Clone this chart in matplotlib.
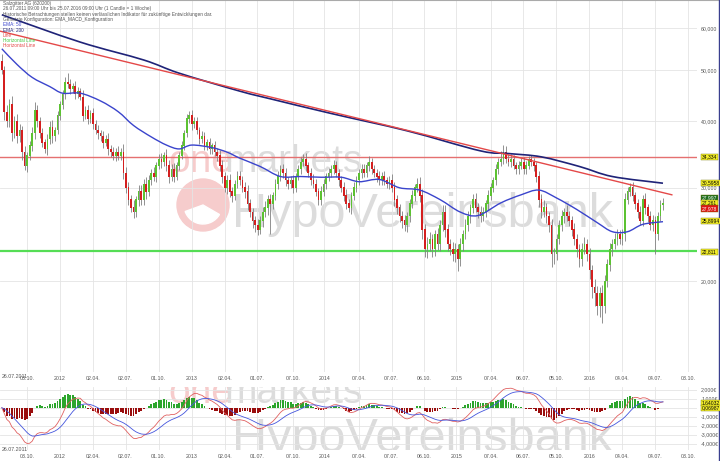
import numpy as np
import pandas as pd
import matplotlib
matplotlib.use("Agg")
import matplotlib.pyplot as plt
import matplotlib.dates as mdates
from matplotlib.patches import Circle, Wedge, PathPatch
from matplotlib.path import Path
from matplotlib.ticker import FixedLocator, NullLocator

plt.rcParams['font.family'] = ['Liberation Sans', 'DejaVu Sans']

# weekly candles 26.07.2011 - 25.07.2016
first_open = 52.0
close = [50.0, 41.7, 40.0, 43.0, 38.0, 40.0, 37.5, 38.5, 35.0, 33.0,
         34.5, 36.0, 38.0, 42.0, 40.0, 38.0, 36.5, 35.5, 37.0, 39.0,
         37.5, 38.5, 41.0, 43.0, 45.0, 47.5, 47.0, 46.0, 46.5, 45.0,
         45.5, 44.5, 41.0, 42.0, 40.5, 41.5, 39.5, 38.5, 38.0, 37.5,
         36.5, 37.0, 35.5, 35.0, 34.5, 35.0, 34.5, 35.0, 32.0, 30.0,
         28.5, 27.5, 27.0, 28.5, 29.5, 28.5, 30.5, 29.5, 31.0, 32.0,
         31.5, 33.0, 34.0, 33.5, 34.5, 33.0, 31.5, 32.5, 31.5, 33.0,
         34.5, 36.0, 38.0, 40.5, 41.0, 39.5, 40.0, 38.5, 37.0, 37.5,
         36.0, 36.5, 35.5, 36.0, 35.0, 34.5, 33.0, 31.5, 30.0, 31.0,
         29.5, 29.0, 30.5, 31.5, 31.0, 30.0, 29.5, 28.0, 27.0, 26.0,
         25.5, 25.0, 26.0, 27.0, 27.5, 28.5, 28.0, 29.0, 30.5, 31.5,
         32.5, 32.0, 31.0, 30.5, 31.0, 30.0, 31.5, 32.5, 33.5, 34.0,
         33.0, 32.0, 31.0, 30.5, 29.5, 28.5, 29.5, 30.5, 31.5, 32.0,
         32.5, 33.0, 32.0, 31.0, 30.0, 29.0, 28.0, 27.5, 29.0, 30.0,
         31.0, 32.0, 32.5, 32.0, 33.0, 33.5, 32.5, 32.0, 31.5, 31.0,
         31.5, 31.0, 30.5, 31.0, 30.0, 28.5, 27.5, 26.5, 26.0, 25.5,
         26.5, 28.0, 29.0, 30.0, 30.5, 29.0, 25.0, 23.0, 23.5, 24.0,
         23.0, 24.5, 23.5, 25.5, 27.0, 25.0, 23.5, 23.0, 22.5, 23.0,
         22.0, 23.5, 24.5, 25.5, 26.5, 27.5, 28.5, 27.5, 27.0, 26.5,
         27.0, 28.0, 29.0, 30.0, 31.0, 32.5, 33.5, 34.0, 35.0, 34.0,
         33.5, 34.0, 33.0, 32.5, 33.0, 33.5, 32.5, 33.0, 34.0, 33.5,
         33.0, 31.5, 28.5, 27.0, 27.5, 26.5, 25.5, 22.5, 22.5, 24.0,
         25.5, 26.5, 27.0, 26.5, 26.0, 25.0, 24.0, 23.0, 22.0, 23.0,
         23.5, 22.5, 21.0, 19.5, 19.0, 18.0, 19.0, 18.0, 20.0, 21.5,
         23.0, 23.5, 24.0, 24.5, 24.0, 24.5, 28.5, 29.5, 30.0, 29.0,
         28.0, 27.0, 26.0, 28.5, 27.5, 26.5, 25.5, 26.0, 24.5, 26.5,
         27.8, 28.0]

up_wick = [1.5, 0.8, 1.2, 1.0, 1.6, 0.9, 1.3, 1.1, 0.7, 0.9,
           0.6, 0.8, 1.0, 1.5, 0.9, 0.7, 0.8, 0.6, 0.9, 1.0,
           1.2, 0.6, 0.8, 0.7, 0.9, 1.0, 1.8, 1.0, 0.8, 1.1,
           0.9, 0.7, 1.3, 0.8, 1.0, 0.6, 0.9, 0.7, 0.8, 0.6,
           0.9, 0.7, 1.0, 0.6, 0.8, 0.7, 0.9, 0.6, 1.2, 0.8,
           0.7, 0.6, 0.9, 0.5, 0.8, 0.9, 0.6, 1.0, 0.7, 0.6,
           0.8, 0.5, 0.7, 0.9, 0.6, 1.0, 0.8, 0.7, 0.9, 0.6,
           0.5, 0.7, 0.6, 0.8, 0.9, 1.0, 0.7, 0.8, 0.6, 0.9,
           0.7, 0.6, 0.8, 0.5, 0.7, 0.6, 0.9, 0.8, 0.6, 0.7,
           0.9, 0.6, 0.5, 0.7, 0.8, 0.6, 0.7, 0.9, 0.6, 0.5,
           0.6, 0.7, 0.5, 0.6, 0.8, 0.6, 0.7, 0.5, 0.6, 0.7,
           0.6, 0.8, 0.7, 0.5, 0.6, 0.7, 0.5, 0.6, 0.8, 0.7,
           0.9, 0.6, 0.7, 0.8, 0.6, 0.5, 0.7, 0.6, 0.5, 0.7,
           0.6, 0.8, 0.7, 0.5, 0.6, 0.7, 0.8, 0.6, 0.5, 0.7,
           0.6, 0.5, 0.7, 0.8, 0.6, 0.9, 0.7, 0.6, 0.5, 0.7,
           0.6, 0.7, 0.5, 0.6, 0.8, 0.7, 0.6, 0.5, 0.6, 0.7,
           0.5, 0.6, 0.7, 0.5, 0.8, 1.0, 0.9, 0.6, 0.7, 0.8,
           0.6, 0.5, 0.7, 0.6, 0.9, 0.8, 0.6, 0.5, 0.7, 0.6,
           0.5, 0.6, 0.5, 0.7, 0.6, 0.5, 0.7, 0.8, 0.6, 0.7,
           0.6, 0.5, 0.7, 0.6, 0.5, 0.8, 0.7, 1.2, 1.1, 0.9,
           0.7, 0.8, 0.6, 0.5, 0.7, 0.6, 0.8, 0.7, 0.5, 0.6,
           0.7, 0.6, 0.8, 0.7, 0.9, 0.6, 0.5, 0.7, 0.6, 0.5,
           0.6, 0.7, 0.5, 0.8, 0.6, 0.5, 0.7, 0.6, 0.5, 0.6,
           0.7, 0.5, 0.6, 0.5, 0.7, 0.6, 0.5, 0.7, 0.6, 0.5,
           0.6, 0.5, 0.7, 0.6, 0.5, 0.6, 0.8, 0.6, 0.6, 0.7,
           0.5, 0.6, 0.7, 0.6, 0.8, 0.5, 0.6, 0.7, 0.6, 0.5,
           0.6, 0.7]

dn_wick = [0.8, 1.5, 1.0, 0.9, 1.2, 0.8, 1.0, 0.9, 1.1, 0.6,
           0.9, 0.7, 0.8, 1.0, 0.9, 0.8, 0.7, 0.6, 0.9, 0.8,
           1.0, 0.7, 0.6, 0.8, 0.7, 0.9, 0.8, 1.0, 0.7, 0.9,
           0.8, 0.7, 0.9, 0.6, 1.0, 0.7, 0.8, 0.6, 0.9, 0.7,
           0.8, 0.6, 0.9, 0.7, 0.6, 0.8, 0.7, 0.6, 0.9, 0.7,
           0.6, 0.5, 0.7, 0.6, 0.8, 0.7, 0.6, 0.9, 0.5, 0.7,
           0.6, 0.7, 0.5, 0.8, 0.6, 0.7, 0.9, 0.6, 0.8, 0.5,
           0.6, 0.5, 0.7, 0.6, 0.8, 0.9, 0.6, 0.7, 0.8, 0.6,
           0.7, 0.6, 0.8, 0.7, 0.6, 0.8, 0.7, 0.9, 0.6, 0.8,
           0.7, 0.8, 0.6, 0.5, 0.7, 0.6, 0.8, 0.7, 0.6, 0.8,
           0.7, 0.6, 0.5, 0.7, 0.6, 0.8, 3.5, 0.6, 0.5, 0.7,
           0.6, 0.7, 0.8, 0.6, 0.5, 0.7, 0.6, 0.5, 0.7, 0.6,
           0.8, 0.6, 0.7, 0.5, 0.6, 0.7, 0.6, 0.5, 0.7, 0.6,
           0.5, 0.7, 0.6, 0.8, 0.6, 0.7, 0.6, 0.5, 0.7, 0.6,
           0.5, 0.6, 0.7, 0.5, 0.6, 0.7, 0.6, 0.5, 0.7, 0.6,
           0.7, 0.6, 0.5, 0.7, 0.6, 0.8, 0.7, 0.6, 0.8, 0.6,
           0.7, 0.6, 0.5, 0.7, 0.6, 0.8, 1.0, 0.8, 0.9, 0.7,
           0.8, 0.7, 0.6, 0.7, 0.6, 0.8, 0.7, 0.6, 0.7, 0.8,
           1.1, 0.6, 0.7, 0.5, 0.6, 0.7, 0.6, 0.5, 0.7, 0.6,
           0.5, 0.6, 0.7, 0.5, 0.6, 0.7, 0.6, 0.5, 0.7, 0.6,
           0.6, 0.7, 0.5, 0.6, 0.7, 0.5, 0.6, 0.7, 0.5, 0.6,
           0.7, 0.8, 0.9, 0.7, 0.6, 0.8, 0.7, 1.2, 0.9, 0.6,
           0.5, 0.6, 0.7, 0.5, 0.6, 0.7, 0.6, 0.8, 0.7, 0.6,
           0.5, 0.7, 0.8, 0.9, 1.0, 0.7, 0.9, 1.3, 0.6, 0.5,
           0.6, 0.7, 0.5, 0.6, 0.5, 0.6, 0.7, 0.5, 0.6, 0.7,
           0.6, 0.7, 0.5, 0.6, 0.7, 0.6, 0.5, 0.6, 2.0, 0.6,
           0.5, 0.6]

# moving averages read at sample weeks
ema50_week = [0, 6, 12, 19, 24, 31, 39, 46, 52, 59, 65, 70, 75, 83, 89, 94, 102, 110,
              118, 126, 134, 141, 149, 157, 165, 173, 181, 188, 197, 205, 212, 219,
              227, 235, 241, 247, 253, 261]
ema50_val = [54.8, 51.2, 48.4, 46.5, 45.2, 45.2, 43.7, 41.7, 39.3, 37.4, 36.1, 35.5,
             36.1, 35.7, 35.0, 34.1, 32.9, 31.5, 31.5, 31.4, 31.4, 30.8, 31.1, 30.0,
             29.7, 28.5, 27.0, 26.6, 28.1, 29.1, 29.7, 28.7, 27.3, 25.8, 24.8, 24.8,
             25.6, 25.9]
ema200_week = [0, 31, 56, 70, 94, 107, 130, 160, 189, 200, 213, 228, 241, 261]
ema200_val = [63.5, 56.4, 52.2, 49.3, 45.6, 44.0, 41.4, 38.4, 35.2, 34.8, 34.3, 32.9,
              31.5, 30.6]

trend_week = [-1, 264.5]
trend_val = [59.2, 29.1]
hline_red = 34.334
hline_green = 22.811

price_ticks = [20, 30, 40, 50, 60]
price_labels = ['20,000', '30,000', '40,000', '50,000', '60,000']
macd_ticks = [-4, -3, -2, -1, 0, 1, 2]
macd_labels = ['-4,000€', '-3,000€', '-2,000€', '-1,000€', '', '1,000€', '2,000€']

tick_dates = ['2011-10-03', '2012-01-02', '2012-04-02', '2012-07-02', '2012-10-01',
              '2013-01-01', '2013-04-02', '2013-07-01', '2013-10-07', '2014-01-02',
              '2014-04-07', '2014-07-07', '2014-10-06', '2015-01-02', '2015-04-07',
              '2015-07-06', '2015-10-05', '2016-01-04', '2016-04-04', '2016-07-04',
              '2016-10-03']
tick_labels = ['03.10.', '2012', '02.04.', '02.07.', '01.10.', '2013', '02.04.', '01.07.',
               '07.10.', '2014', '07.04.', '07.07.', '06.10.', '2015', '07.04.', '06.07.',
               '05.10.', '2016', '04.04.', '04.07.', '03.10.']

W, H = 720, 461
def fx(px):
    return px / W
def fy(py):
    return 1 - py / H

close = np.array(close)
opens = np.concatenate([[first_open], close[:-1]])
high = np.maximum(opens, close) + np.array(up_wick)
low = np.minimum(opens, close) - np.array(dn_wick)

start = pd.Timestamp('2011-07-26')
dates = start + pd.to_timedelta(7 * np.arange(len(close)), unit='D')
x = mdates.date2num(dates.to_pydatetime())
def wk(w):
    return mdates.date2num(start.to_pydatetime()) + 7 * np.asarray(w, dtype=float)

def smooth_log_path(xs, ys):
    # Catmull-Rom through the read points, drawn as bezier curves (log-y space)
    xs = np.asarray(xs, float)
    ly = np.log(np.asarray(ys, float))
    verts = [(xs[0], ys[0])]
    codes = [Path.MOVETO]
    n = len(xs)
    for i in range(n - 1):
        x0, y0 = (xs[i - 1], ly[i - 1]) if i > 0 else (xs[i], ly[i])
        x1, y1 = xs[i], ly[i]
        x2, y2 = xs[i + 1], ly[i + 1]
        x3, y3 = (xs[i + 2], ly[i + 2]) if i + 2 < n else (x2, y2)
        c1 = (x1 + (x2 - x0) / 6, y1 + (y2 - y0) / 6)
        c2 = (x2 - (x3 - x1) / 6, y2 - (y3 - y1) / 6)
        verts += [(c1[0], np.exp(c1[1])), (c2[0], np.exp(c2[1])), (x2, np.exp(y2))]
        codes += [Path.CURVE4] * 3
    return Path(verts, codes)

# MACD from the weekly closes
s = pd.Series(close)
macd = s.ewm(span=12, adjust=False).mean() - s.ewm(span=26, adjust=False).mean()
signal = macd.ewm(span=9, adjust=False).mean()
hist = macd - signal

fig = plt.figure(figsize=(7.2, 4.61), dpi=100)
fig.patch.set_facecolor('white')

ax = fig.add_axes([0, fy(372), fx(697), fy(0) - fy(372)])
ax2 = fig.add_axes([0, fy(450), fx(697), fy(387) - fy(450)])

xl = (mdates.date2num(pd.Timestamp('2011-07-21').to_pydatetime()),
      mdates.date2num(pd.Timestamp('2016-10-28').to_pydatetime()))
tick_x = mdates.date2num(pd.to_datetime(tick_dates).to_pydatetime())

for a in (ax, ax2):
    a.set_facecolor('none')
    for sp in a.spines.values():
        sp.set_visible(False)
    a.set_xlim(*xl)
    a.xaxis.set_major_locator(FixedLocator(tick_x))
    a.set_xticklabels(tick_labels)
    a.yaxis.tick_right()
    a.tick_params(axis='both', length=0, labelsize=3.8, labelcolor='#555555', pad=3)
    a.grid(True, color='#e4e4e4', lw=0.6)
    a.set_axisbelow(True)

# watermarks
wm_pink = '#f6cccc'
wm_gray = '#dcdcdc'
fig.text(fx(168), fy(172), 'one', fontsize=28, color=wm_pink, zorder=-5)
fig.text(fx(224), fy(172), 'markets', fontsize=28, color=wm_gray, zorder=-5)
fig.text(fx(232), fy(227), 'HypoVereinsbank', fontsize=35, color=wm_gray, zorder=-5)
fig.add_artist(Circle((203, fy(205) * H), 26, transform=None, color=wm_pink, zorder=-5))
fig.add_artist(Wedge((203, fy(205) * H), 19, 200, 330, transform=None, color='white', zorder=-4))

for t, px, py, fs, col in [('one', 168, 403, 28, wm_pink),
                           ('markets', 224, 403, 28, wm_gray),
                           ('HypoVereinsbank', 232, 452, 35, wm_gray)]:
    tt = ax2.text(fx(px), fy(py), t, fontsize=fs, color=col,
                  transform=fig.transFigure, zorder=0)
    tt.set_clip_box(ax2.bbox)
    tt.set_clip_on(True)

# main chart
ax.set_yscale('log')
ax.set_ylim(13.5, 67.7)
ax.yaxis.set_major_locator(FixedLocator(price_ticks))
ax.yaxis.set_minor_locator(NullLocator())
ax.set_yticklabels(price_labels)

up = close >= opens
ax.vlines(x, low, high, color='#808080', lw=0.6, zorder=2)
body_lo = np.minimum(opens, close)
body_h = np.abs(close - opens) + 0.05
ax.bar(x[up], body_h[up], bottom=body_lo[up], width=4.8, color='#5cc232', lw=0, zorder=3)
ax.bar(x[~up], body_h[~up], bottom=body_lo[~up], width=4.8, color='#d41f1f', lw=0, zorder=3)

ax.add_patch(PathPatch(smooth_log_path(wk(ema50_week), ema50_val), fill=False,
                       ec='#3a44cc', lw=1.0, zorder=4))
ax.add_patch(PathPatch(smooth_log_path(wk(ema200_week), ema200_val), fill=False,
                       ec='#1f2378', lw=1.2, zorder=4))
ax.plot(wk(trend_week), trend_val, color='#e44848', lw=1.0, zorder=4)
ax.axhline(hline_red, color='#e57070', lw=1.0, zorder=1)
ax.axhline(hline_green, color='#55dd55', lw=1.6, zorder=1)

# MACD panel
ax2.set_ylim(-4.7, 2.3)
ax2.yaxis.set_major_locator(FixedLocator(macd_ticks))
ax2.set_yticklabels(macd_labels)
hcol = np.where(hist >= 0, '#2ca52c', '#9a0d0d')
ax2.bar(x, hist, width=5.0, color=hcol, lw=0, zorder=2)
ax2.plot(x, macd, color='#e06060', lw=0.6, zorder=3)
ax2.plot(x, signal, color='#4455dd', lw=0.6, zorder=3)

# start date labels
fig.text(fx(2), fy(376), '26.07.2011', fontsize=3.8, color='#555555', va='center')
fig.text(fx(2), fy(449), '26.07.2011', fontsize=3.8, color='#555555', va='center')

# header / legend text
hdr = [('Salzgitter AG (620200)', '#555555'),
       ('26.07.2011 09:00 Uhr bis 25.07.2016 09:00 Uhr (1 Candle = 1 Woche)', '#555555'),
       ('Historische Betrachtungen stellen keinen verlässlichen Indikator für zukünftige Entwicklungen dar.', '#555555'),
       ('Genutzte Konfiguration: EMA_MACD_Konfiguration', '#555555'),
       ('EMA: 50', '#3a44cc'),
       ('EMA: 200', '#1f2378'),
       ('Line', '#e44848'),
       ('Horizontal Line', '#44cc44'),
       ('Horizontal Line', '#e44848')]
for k, (t, col) in enumerate(hdr):
    fig.text(fx(3), fy(3.5 + 5.3 * k), t, fontsize=3.4, color=col, va='center')

# value boxes on the right
boxes = [(157, '34,334', '#f3ee2a', 'black'),
         (183, '30,5958', '#f3ee2a', 'black'),
         (198, '27,997', '#1d6e1d', 'white'),
         (203, '27,261', '#f3ee2a', 'black'),
         (208.5, '27,978', '#dd1515', 'white'),
         (221, '25,8994', '#f3ee2a', 'black'),
         (252, '22,811', '#f3ee2a', 'black'),
         (403, '1,64032', '#f3ee2a', 'black'),
         (408, '0,06987', '#f3ee2a', 'black')]
for py, t, bg, fg in boxes:
    fig.text(fx(702), fy(py), t, fontsize=3.6, color=fg, va='center',
             bbox=dict(boxstyle='square,pad=0.15', fc=bg, ec='#777700', lw=0.3))

# frame lines
fig.add_artist(plt.Line2D([0, 1], [fy(0.5), fy(0.5)], transform=fig.transFigure,
                          color='#aaaaaa', lw=0.8))
fig.add_artist(plt.Line2D([fx(718.5), fx(718.5)], [0, 1], transform=fig.transFigure,
                          color='#3a3f8f', lw=1.0))

fig.savefig('out.png', dpi=100, facecolor='white')
